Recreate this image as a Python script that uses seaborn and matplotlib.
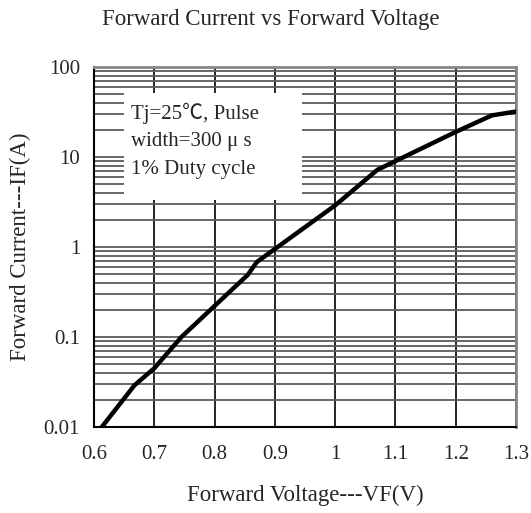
import numpy as np
import pandas as pd
import matplotlib
matplotlib.use("Agg")
import matplotlib.pyplot as plt
from matplotlib.patches import Rectangle
from matplotlib.ticker import FixedLocator, FixedFormatter, LogLocator, NullFormatter
import seaborn as sns

# Data
vf = [0.613, 0.667, 0.70, 0.745, 0.855, 0.87, 1.0, 1.07, 1.2, 1.26, 1.3]
i_f = [0.01, 0.029, 0.045, 0.10, 0.49, 0.68, 2.9, 7.2, 19.0, 29.0, 32.0]
x_ticks = [0.6, 0.7, 0.8, 0.9, 1.0, 1.1, 1.2, 1.3]
x_labels = ["0.6", "0.7", "0.8", "0.9", "1", "1.1", "1.2", "1.3"]
y_ticks = [0.01, 0.1, 1, 10, 100]
y_labels = ["0.01", "0.1", "1", "10", "100"]
note_lines = ["Tj=25\u2103, Pulse", "width=300 \u03bc s", "1% Duty cycle"]

sns.set_style("white")
fam = ["Liberation Serif", "Noto Sans CJK SC", "DejaVu Sans"]
plt.rcParams["font.family"] = fam

df = pd.DataFrame({"VF": vf, "IF": i_f})

fig = plt.figure(figsize=(5.31, 5.13), dpi=100)
ax = fig.add_axes([94/531, 1-427/513, (516-94)/531, (427-67)/513])

ax.set_yscale("log")
ax.set_xlim(0.6, 1.3)
ax.set_ylim(0.01, 100)

# grid
ax.yaxis.set_major_locator(FixedLocator(y_ticks))
ax.yaxis.set_major_formatter(FixedFormatter(y_labels))
ax.yaxis.set_minor_locator(LogLocator(base=10, subs=np.arange(2, 10)))
ax.yaxis.set_minor_formatter(NullFormatter())
ax.xaxis.set_major_locator(FixedLocator(x_ticks))
ax.xaxis.set_major_formatter(FixedFormatter(x_labels))
ax.grid(True, which="both", axis="y", color="#5a5a5a", lw=1.3)
ax.grid(True, which="major", axis="x", color="black", lw=1.2)
ax.set_axisbelow(True)

sns.lineplot(data=df, x="VF", y="IF", ax=ax, color="black", lw=3.2, zorder=5)

# annotation box
ax.add_patch(Rectangle((0.65, 3.3), 0.295, 51.4 - 3.3, facecolor="white",
                       edgecolor="none", zorder=3))
for yv, line in zip([30.8, 14.7, 7.2], note_lines):
    ax.text(0.662, yv, line, fontsize=15, va="center", ha="left",
            family=fam, zorder=4)

ax.tick_params(axis="x", which="both", length=0, labelsize=15, pad=13)
ax.tick_params(axis="y", which="both", length=0, labelsize=15, pad=10)
for lbl in ax.get_xticklabels() + ax.get_yticklabels():
    lbl.set_family(fam)

ax.set_xlabel("Forward Voltage---VF(V)", fontsize=16.5, labelpad=15)
ax.set_ylabel("Forward Current---IF(A)", fontsize=16.5, labelpad=9)
fig.text(271/531, 1-20/513, "Forward Current vs Forward Voltage",
         fontsize=16.5, ha="center", va="center", family=fam)

for s in ["left", "bottom"]:
    ax.spines[s].set_color("black")
    ax.spines[s].set_linewidth(1.5)
for s in ["right", "top"]:
    ax.spines[s].set_color("#888888")
    ax.spines[s].set_linewidth(2)

fig.savefig("out.png", dpi=100)
